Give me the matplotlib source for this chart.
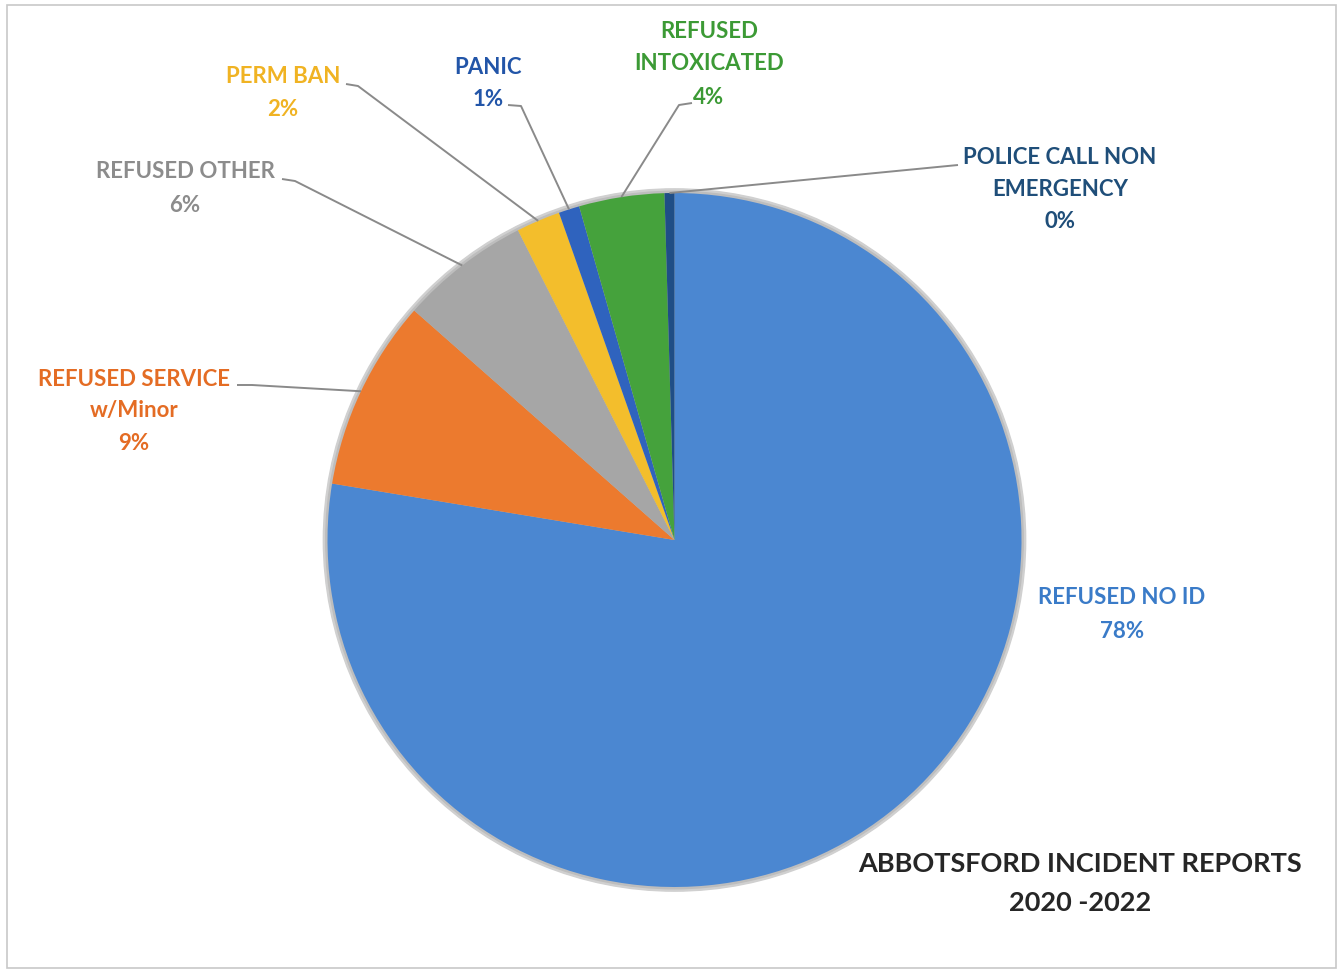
import matplotlib
matplotlib.use("Agg")
import matplotlib.pyplot as plt
from matplotlib.patches import Circle, Rectangle
import numpy as np

# ---- data ----
categories = ["REFUSED NO ID", "REFUSED SERVICE\nw/Minor", "REFUSED OTHER", "PERM BAN",
              "PANIC", "REFUSED\nINTOXICATED", "POLICE CALL NON\nEMERGENCY"]
values = [77.6, 8.9, 6.05, 2.05, 0.97, 3.97, 0.46]
wedge_colors = ["#4B87D1", "#EC7A2E", "#A6A6A6", "#F3BE2C", "#2F63BE", "#45A23C", "#1F4E86"]
label_colors = ["#3A7BC8", "#E46C24", "#8C8C8C", "#F0B323", "#2255A8", "#3C9A35", "#1F4E79"]
title_lines = ["ABBOTSFORD INCIDENT REPORTS", "2020 -2022"]

# ---- layout (pixels) ----
W, H = 1338, 970
CX, CY, R = 674.5, 541.0, 347.0

def px(x, y):
    return ((x - CX) / R, (CY - y) / R)

fig = plt.figure(figsize=(W / 100, H / 100), dpi=100)
fig.patch.set_facecolor("white")
ax = fig.add_axes([0, 0, 1, 1])

# soft shadow ring
ax.add_patch(Circle((0, 0), 1.012, color="#D0D0D0", zorder=0))
ax.add_patch(Circle((0, 0), 1.005, color="#BDBDBD", zorder=0))

wedges, _ = ax.pie(values, colors=wedge_colors, startangle=90, counterclock=False,
                   radius=1.0, center=(0, 0), wedgeprops=dict(linewidth=0))

ax.set_xlim(-CX / R, (W - CX) / R)
ax.set_ylim(-(H - CY) / R, CY / R)
ax.set_aspect("equal")
ax.axis("off")

# frame
fig.patches.append(Rectangle((7 / W, 1 / H), (1336 - 7) / W, 963 / H, transform=fig.transFigure,
                             fill=False, edgecolor="#C8C8C8", linewidth=1.2))

FONT = "Lato"
FS = 16

def pct(v):
    return f"{round(v / sum(values) * 100):d}%"

# label line centres (pixels) and leader lines (label end, elbow)
label_specs = {
    0: dict(x=1122, ys=[598, 631], leader=None),
    1: dict(x=134, ys=[379, 411, 443], leader=[(237, 386), (252, 386)]),
    2: dict(x=185, ys=[172, 205], leader=[(282, 180), (295, 182)]),
    3: dict(x=283, ys=[76, 109], leader=[(346, 85), (358, 87)]),
    4: dict(x=488, ys=[67, 100], leader=[(508, 106), (521, 107)]),
    5: dict(x=709, ys=[31, 63, 97], leader=[(692, 104), (679, 106)]),
    6: dict(x=1060, ys=[158, 190, 222], leader=[(958, 166), (958, 166)]),
}

for i, spec in label_specs.items():
    lines = categories[i].split("\n") + [pct(values[i])]
    for line, y in zip(lines, spec["ys"]):
        tx, ty = px(spec["x"], y)
        ax.text(tx, ty, line, ha="center", va="center", fontsize=FS, fontweight="bold",
                color=label_colors[i], family=FONT)
    if spec["leader"]:
        w = wedges[i]
        mid = np.deg2rad((w.theta1 + w.theta2) / 2)
        rim = (np.cos(mid), np.sin(mid))
        p0 = px(*spec["leader"][0])
        p1 = px(*spec["leader"][1])
        ax.plot([p0[0], p1[0], rim[0]], [p0[1], p1[1], rim[1]], color="#8A8A8A",
                linewidth=1.4, solid_capstyle="butt", zorder=1)

for line, y in zip(title_lines, [864, 903]):
    tx, ty = px(1080, y)
    ax.text(tx, ty, line, ha="center", va="center", fontsize=19.5, fontweight="bold",
            color="#262626", family=FONT)

fig.savefig("out.png", dpi=100, facecolor="white")
